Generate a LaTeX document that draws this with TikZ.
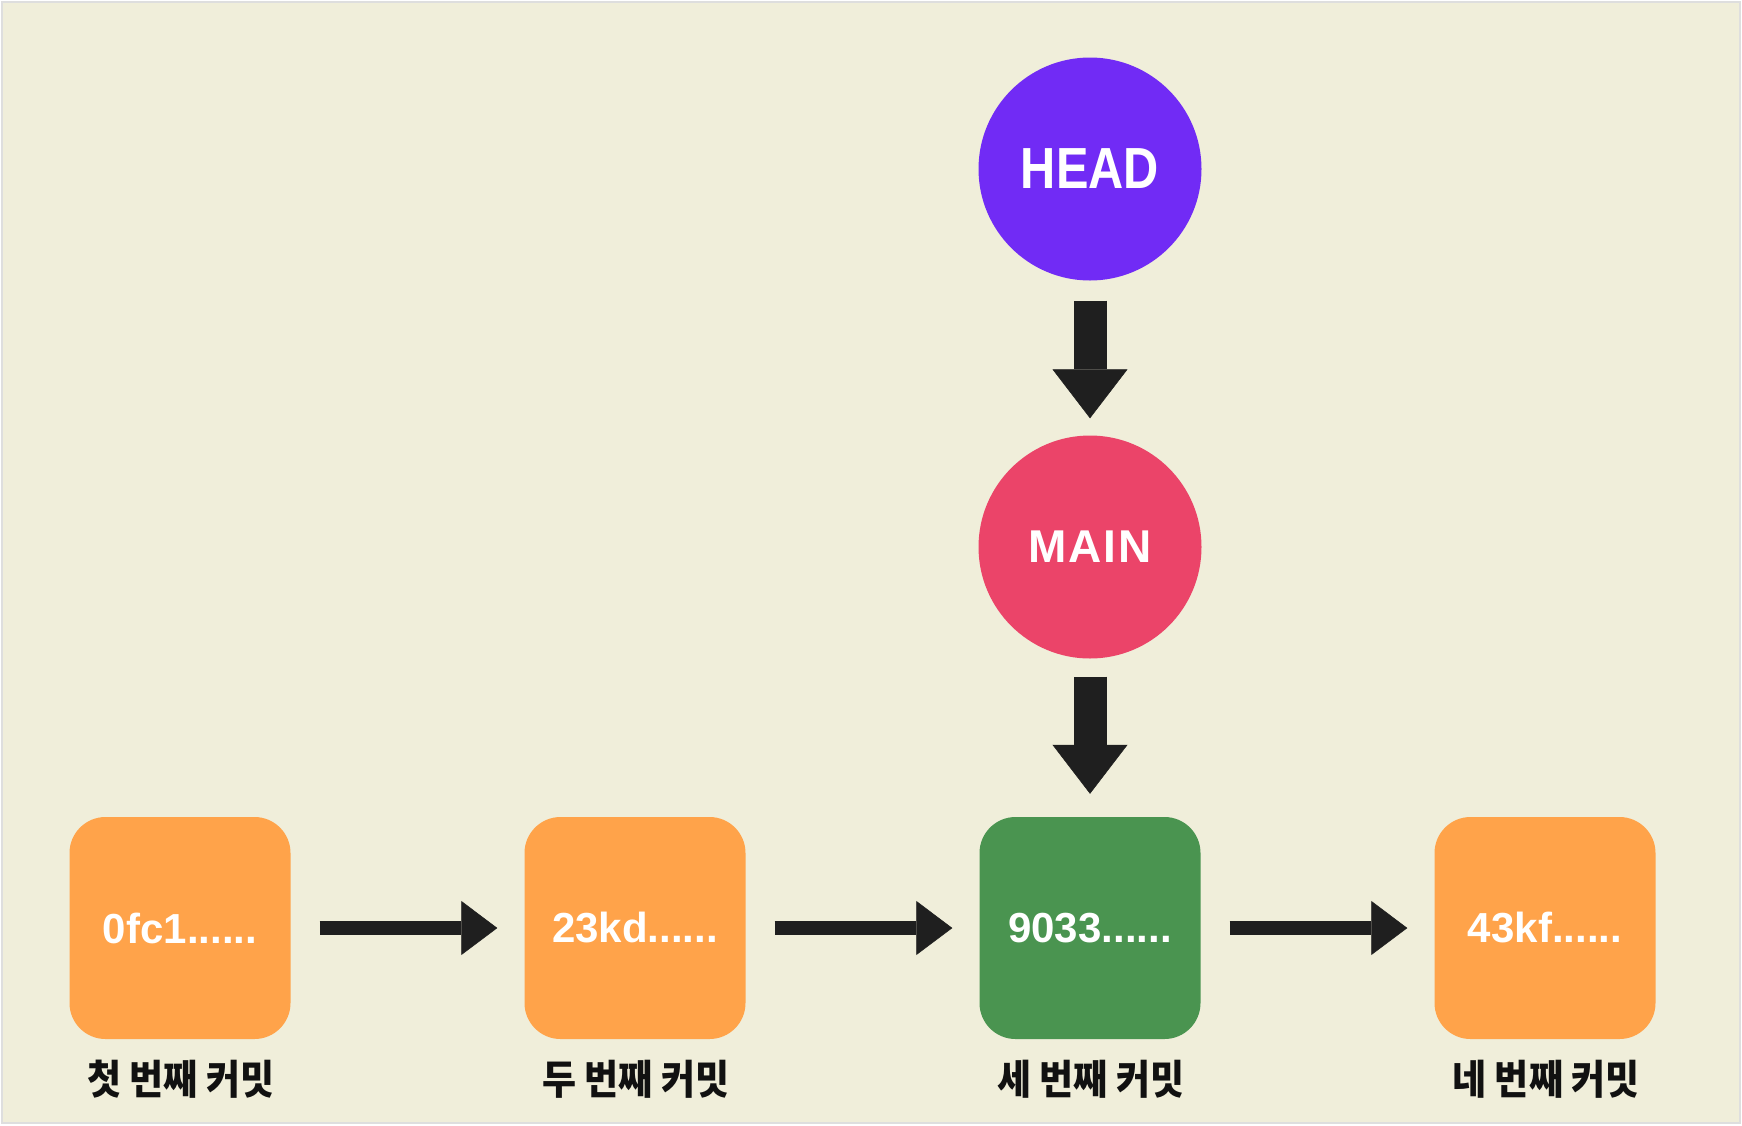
\documentclass[tikz,border=0pt]{standalone}
\usepackage{fontspec}
\setmainfont{Liberation Sans}
\newfontfamily\kofont{Noto Sans CJK KR}
\usetikzlibrary{arrows.meta}
\definecolor{bg}{RGB}{240,238,218}
\definecolor{bordergray}{RGB}{222,222,222}
\definecolor{headc}{RGB}{113,43,245}
\definecolor{mainc}{RGB}{235,68,105}
\definecolor{orangec}{RGB}{255,163,74}
\definecolor{greenc}{RGB}{74,148,80}
\definecolor{arrowc}{RGB}{31,31,31}
\definecolor{labeltext}{RGB}{17,17,17}
\begin{document}
\begin{tikzpicture}[x=1pt,y=-1pt,
  commit/.style={rectangle, rounded corners=36pt, minimum width=221pt, minimum height=222pt,
    inner sep=0pt, text=white, font=\fontsize{42}{50}\selectfont\bfseries},
  ptr/.style={circle, minimum size=223pt, inner sep=0pt, text=white},
  lbl/.style={font=\kofont\fontsize{37}{40}\selectfont\bfseries, text=labeltext, inner sep=0pt},
  varrow/.style={draw=arrowc, line width=33pt,
    -{Triangle[width=75pt,length=49pt,line width=0.5pt,color=arrowc]}},
  harrow/.style={draw=arrowc, line width=14pt,
    -{Triangle[width=54pt,length=36pt,line width=0.5pt,color=arrowc]}}]
\useasboundingbox (0,0) rectangle (1742,1125);
\fill[white] (0,0) rectangle (1742,1125);
\draw[fill=bg, draw=bordergray, line width=1.5pt] (2,2) rectangle (1740,1123);

\node[ptr, fill=headc, font=\fontsize{58}{60}\selectfont\bfseries] (head) at (1090,169) {\scalebox{0.84}[1]{HEAD}};
\node[ptr, fill=mainc, font=\fontsize{46}{50}\selectfont\bfseries] (main) at (1090,547) {M\kern2pt A\kern2pt I\kern2pt N};

\node[commit, fill=orangec] (c1) at (180,928) {0fc1......};
\node[commit, fill=orangec] (c2) at (635,928) {23kd......};
\node[commit, fill=greenc]  (c3) at (1090,928) {9033......};
\node[commit, fill=orangec] (c4) at (1545,928) {43kf......};

\node[lbl] (l1) at (181,1079) {\scalebox{1}[1.1]{첫 번째 커밋}};
\node[lbl] (l2) at (636,1079) {\scalebox{1}[1.1]{두 번째 커밋}};
\node[lbl] (l3) at (1091,1079) {\scalebox{1}[1.1]{세 번째 커밋}};
\node[lbl] (l4) at (1546,1079) {\scalebox{1}[1.1]{네 번째 커밋}};

\draw[varrow, shorten <=20pt, shorten >=17pt] (head.south) -- (main.north);
\draw[varrow, shorten <=18pt, shorten >=23pt] (main.south) -- (c3.north);
\draw[harrow, shorten <=29pt, shorten >=27pt] (c1.east) -- (c2.west);
\draw[harrow, shorten <=29pt, shorten >=27pt] (c2.east) -- (c3.west);
\draw[harrow, shorten <=29pt, shorten >=27pt] (c3.east) -- (c4.west);
\end{tikzpicture}
\end{document}
